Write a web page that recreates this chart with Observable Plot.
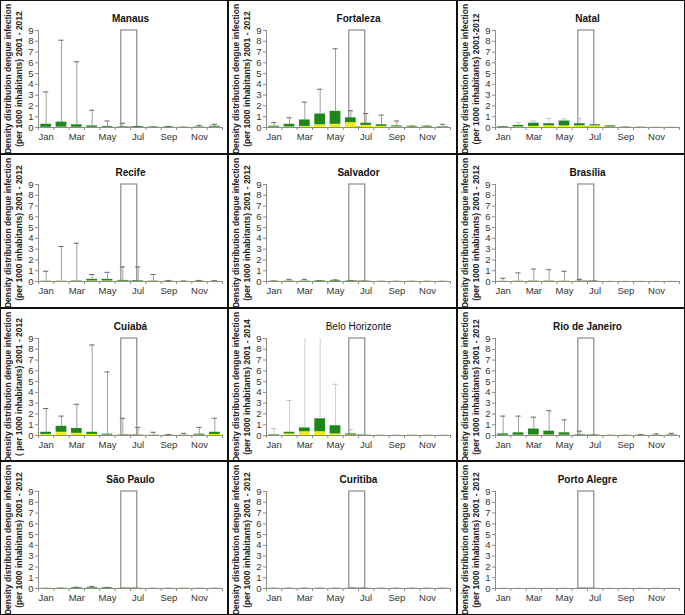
<!DOCTYPE html>
<html><head><meta charset="utf-8">
<script src="https://cdn.jsdelivr.net/npm/d3@7"></script>
<script src="https://cdn.jsdelivr.net/npm/@observablehq/plot@0.6"></script>
<style>
body{margin:0;background:#fff;}
#grid{width:685px;height:615px;box-sizing:border-box;background:#111;padding:1px;display:grid;grid-template-columns:repeat(3,1fr);grid-template-rows:repeat(4,1fr);gap:2px;}
.panel{background:#fff;overflow:hidden;}
.panel svg{display:block;}
</style></head><body><div id="grid"></div>
<script>
const months = ["Jan","Feb","Mar","Apr","May","Jun","Jul","Aug","Sep","Oct","Nov","Dec"];
const monthTicks = [1,3,5,7,9,11];
const yTicks = [0,1,2,3,4,5,6,7,8,9];
const yMax = 9;
// World Cup 2014 period (12 June - 13 July), in month units (month m centred on m)
const worldCupSpan = [5.9, 6.94];

const cities = ["Manaus","Fortaleza","Natal","Recife","Salvador","Brasília","Cuiabá","Belo Horizonte","Rio de Janeiro","São Paulo","Curitiba","Porto Alegre"];
const periods = ["2001 - 2012","2001 - 2012","2001-2012","2001 - 2012","2001 - 2012","2001 - 2012","2001 - 2012","2001 - 2014","2001 - 2012","2001 - 2012","2001 - 2012","2001 - 2012"];
const yLabelOpen = ["(per","(per","(per","(per","(per","(per","( per","(per","(per","(per","(per","(per"];

// median per month (Jan..Dec)
const median = [
  [0.02,0.03,0.02,0.02,0.02,0.02,0.01,0.01,0.01,0.01,0.01,0.03],
  [0.03,0.05,0.1,0.25,0.3,0.45,0.2,0.1,0.05,0.05,0.05,0.03],
  [0.02,0.05,0.1,0.15,0.15,0.15,0.15,0.05,0.02,0.01,0.01,0.01],
  [0.01,0.01,0.02,0.05,0.05,0.03,0.02,0.01,0.01,0.01,0.01,0.01],
  [0.01,0.01,0.02,0.03,0.03,0.02,0.01,0.01,0.01,0.01,0.01,0.01],
  [0.01,0.01,0.01,0.01,0.01,0.01,0.01,0.01,0.01,0.01,0.01,0.01],
  [0.1,0.3,0.2,0.1,0.03,0.02,0.02,0.01,0.01,0.01,0.03,0.1],
  [0.03,0.15,0.35,0.35,0.15,0.05,0.01,0.01,0.01,0.01,0.01,0.01],
  [0.02,0.03,0.05,0.05,0.03,0.01,0.01,0.01,0.01,0.01,0.01,0.01],
  [0.01,0.01,0.02,0.03,0.02,0.01,0.01,0.01,0.01,0.01,0.01,0.01],
  [0.005,0.005,0.005,0.005,0.005,0.005,0.005,0.005,0.005,0.005,0.005,0.005],
  [0.005,0.005,0.005,0.005,0.005,0.005,0.005,0.005,0.005,0.005,0.005,0.005]
];
// upper quartile per month
const upperQuartile = [
  [0.3,0.5,0.25,0.15,0.1,0.06,0.08,0.05,0.05,0.03,0.05,0.12],
  [0.12,0.3,0.7,1.25,1.5,0.9,0.4,0.25,0.15,0.12,0.12,0.08],
  [0.08,0.2,0.4,0.35,0.6,0.35,0.25,0.15,0.05,0.03,0.02,0.02],
  [0.03,0.03,0.06,0.2,0.2,0.1,0.08,0.04,0.03,0.02,0.03,0.02],
  [0.03,0.04,0.05,0.08,0.1,0.06,0.03,0.02,0.02,0.02,0.02,0.02],
  [0.02,0.03,0.04,0.04,0.03,0.02,0.02,0.01,0.01,0.01,0.01,0.01],
  [0.3,0.85,0.65,0.3,0.12,0.05,0.05,0.03,0.03,0.03,0.12,0.3],
  [0.08,0.3,0.7,1.55,0.9,0.15,0.03,0.02,0.02,0.02,0.02,0.02],
  [0.15,0.25,0.6,0.4,0.25,0.05,0.03,0.02,0.02,0.03,0.03,0.05],
  [0.02,0.03,0.08,0.1,0.08,0.02,0.02,0.02,0.02,0.02,0.02,0.02],
  [0.02,0.02,0.02,0.02,0.02,0.02,0.02,0.02,0.02,0.02,0.02,0.02],
  [0.01,0.01,0.01,0.01,0.01,0.01,0.01,0.01,0.01,0.01,0.01,0.01]
];
// upper whisker per month
const whiskerTop = [
  [3.3,8.1,6.1,1.6,0.6,0.4,0.1,0.05,0.1,0.03,0.2,0.3],
  [0.45,0.9,2.35,3.55,7.3,1.55,1.3,1.15,0.6,0.12,0.12,0.3],
  [0.1,0.45,0.6,0.85,0.8,0.85,0.25,0.15,0.05,0.03,0.02,0.02],
  [0.95,3.25,3.55,0.65,0.85,1.35,1.35,0.65,0.1,0.05,0.1,0.08],
  [0.05,0.2,0.2,0.1,0.15,0.1,0.03,0.02,0.02,0.02,0.02,0.02],
  [0.3,0.8,1.15,1.1,0.95,0.2,0.05,0.01,0.01,0.01,0.01,0.01],
  [2.5,1.8,2.9,8.4,5.9,1.6,0.75,0.3,0.1,0.2,0.75,1.6],
  [0.65,3.25,9.8,9.8,4.75,0.55,0.03,0.02,0.02,0.02,0.02,0.02],
  [1.8,1.8,1.7,2.3,1.45,0.4,0.05,0.02,0.02,0.1,0.15,0.2],
  [0.02,0.03,0.12,0.2,0.1,0.02,0.02,0.02,0.02,0.02,0.02,0.02],
  [0.02,0.02,0.02,0.02,0.02,0.02,0.02,0.02,0.02,0.02,0.02,0.02],
  [0.01,0.01,0.01,0.01,0.01,0.01,0.01,0.01,0.01,0.01,0.01,0.01]
];

// styles (kept apart from the data)
const GREEN = "#1d861d", YELLOW = "#eeee12";
const lightWhisker = new Set(["Natal","Belo Horizonte"]);
const boxHalf = 0.35, capHalf = 0.17;
const boundaries = d3.range(0.5, 13, 1);

const grid = document.getElementById("grid");
cities.forEach((city, ci) => {
  const rows = months.map((mName, mi) => ({
    m: mi + 1, med: median[ci][mi], q3: upperQuartile[ci][mi], top: whiskerTop[ci][mi]
  }));
  const wColor = lightWhisker.has(city) ? "#cfcfcf" : "#a0a0a0";
  const cColor = lightWhisker.has(city) ? "#c4c4c4" : "#6a6a6a";
  const bold = city === "Belo Horizonte" ? "normal" : "bold";
  const line1 = "Density distribution dengue infection";
  const line2 = yLabelOpen[ci] + " 1000 inhabitants) " + periods[ci];
  const chart = Plot.plot({
    width: 226, height: 151,
    marginLeft: 37, marginRight: 5, marginTop: 29, marginBottom: 25,
    style: {fontFamily: "'Liberation Sans', Arial, sans-serif", fontSize: "9.5px", color: "#222", background: "white", overflow: "visible"},
    x: {type: "linear", domain: [0.5, 12.5], label: null},
    y: {domain: [0, yMax], label: null},
    marks: [
      Plot.rect([worldCupSpan], {x1: d => d[0], x2: d => d[1], y1: 0, y2: yMax, fill: "white", stroke: "#8c8c8c", strokeWidth: 1.2}),
      Plot.ruleX(rows, {x: "m", y1: "q3", y2: "top", stroke: wColor, strokeWidth: 1, clip: true}),
      Plot.ruleY(rows, {y: "top", x1: d => d.m - capHalf, x2: d => d.m + capHalf, stroke: cColor, strokeWidth: 1, clip: true}),
      Plot.rectY(rows, {x1: d => d.m - boxHalf, x2: d => d.m + boxHalf, y1: 0, y2: "med", fill: YELLOW}),
      Plot.rectY(rows, {x1: d => d.m - boxHalf, x2: d => d.m + boxHalf, y1: "med", y2: "q3", fill: GREEN}),
      Plot.frame({anchor: "left", stroke: "#8c8c8c"}),
      Plot.frame({anchor: "bottom", stroke: "#8c8c8c"}),
      Plot.axisY({ticks: yTicks, tickSize: 3, tickPadding: 2, stroke: "#8c8c8c", fill: "#333", label: null}),
      Plot.axisX({ticks: boundaries, tickSize: 3, tickFormat: () => "", stroke: "#8c8c8c", label: null}),
      Plot.axisX({ticks: monthTicks, tickSize: 0, tickPadding: 6, tickFormat: d => months[d - 1], fill: "#333", label: null}),
      Plot.text([city], {frameAnchor: "top", dy: -16, fontSize: 10, fontWeight: bold, fill: "#111"}),
      Plot.text([line1], {frameAnchor: "left", textAnchor: "middle", rotate: -90, dx: -30, fontSize: 8.5, fontWeight: "bold", fill: "#222"}),
      Plot.text([line2], {frameAnchor: "left", textAnchor: "middle", rotate: -90, dx: -19.5, fontSize: 8.5, fontWeight: "bold", fill: "#222"})
    ]
  });
  const panel = document.createElement("div");
  panel.className = "panel";
  panel.appendChild(chart);
  grid.appendChild(panel);
});
</script></body></html>
